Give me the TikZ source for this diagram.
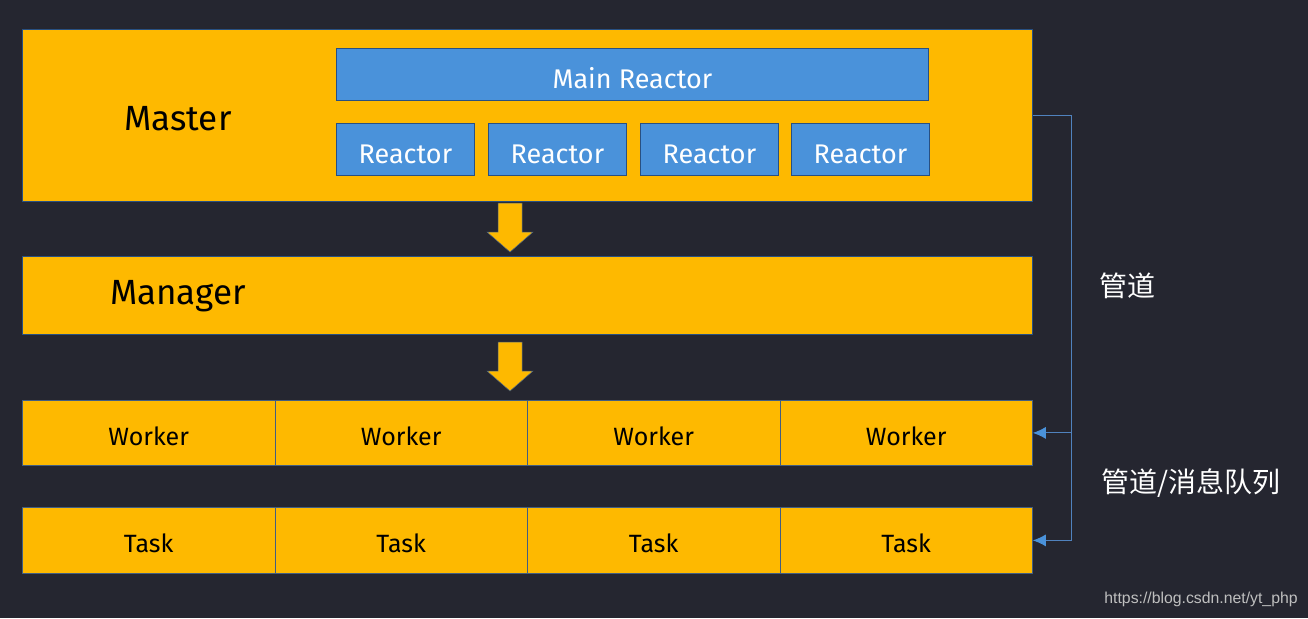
\documentclass[tikz,border=0pt]{standalone}
\usepackage{fontspec}
\setmainfont{Fira Sans}
\newfontfamily\cjk{Noto Sans CJK SC}
\newfontfamily\urlfont{Liberation Sans}
\usetikzlibrary{arrows.meta}
\definecolor{bg}{RGB}{37,38,48}
\definecolor{gold}{RGB}{254,185,0}
\definecolor{sky}{RGB}{74,146,218}
\definecolor{edge}{RGB}{40,80,130}
\definecolor{pipe}{RGB}{80,130,190}

\begin{document}
\begin{tikzpicture}[x=1pt,y=-1pt,
  layer/.style={fill=gold,draw=edge,line width=0.8pt,inner sep=0pt,minimum width=1010,anchor=north west},
  cell/.style={fill=gold,draw=edge!70!gray,line width=0.8pt,inner sep=0pt,minimum width=252.5,text height=25,text depth=0,font=\fontsize{25}{25}\selectfont,anchor=north west},
  reactor/.style={fill=sky,draw=edge,line width=0.8pt,inner sep=0pt,text=white,text height=28,text depth=0,font=\fontsize{27}{27}\selectfont,minimum height=52,anchor=north west},
  title/.style={font=\fontsize{35}{35}\selectfont,text=black},
  channel/.style={draw=pipe,line width=1pt,-{Latex[length=13pt,width=12pt,color=sky]}},
  note/.style={text=white,font=\cjk\fontsize{28}{28}\selectfont}]
\useasboundingbox[fill=bg] (0,0) rectangle (1308,618);
\node[layer,minimum height=172] (master) at (22,29) {};
\node[title] (mastertext) at (178,119) {Master};
\node[reactor,minimum width=592] (main) at (336,48) {Main Reactor};
\foreach \x [count=\i] in {336,488,640,791}
  \node[reactor,minimum width=138] (reactor\i) at (\x,123) {Reactor};
\node[layer,minimum height=78] (manager) at (22,256) {};
\node[title] (managertext) at (178,296) {Manager};
\foreach \i in {1,...,4} {
  \node[cell,minimum height=65] (worker\i) at (22+252.5*\i-252.5,400) {Worker};
  \node[cell,minimum height=66] (task\i) at (22+252.5*\i-252.5,507) {Task};
}
% block arrows between layers
\foreach \y in {203,342}
  \fill[gold,draw=edge!60!gray,line width=0.5pt] (498,\y) -- (522,\y) -- (522,\y+29) -- (533,\y+29)
    -- (510,\y+49) -- (487,\y+29) -- (498,\y+29) -- cycle;
\draw[channel] (master.east) -- ++(39,0) coordinate (bend) |- (task4.east);
\draw[channel] (bend |- worker4.east) -- (worker4.east);
\node[note] (pipe) at (1127,286) {管道};
\node[note] (queue) at (1191,483) {管道/消息队列};
\node[text=black!25,font=\urlfont\fontsize{15.8}{15.8}\selectfont] (url) at (1201,599) {https://blog.csdn.net/yt\_php};
\end{tikzpicture}
\end{document}
